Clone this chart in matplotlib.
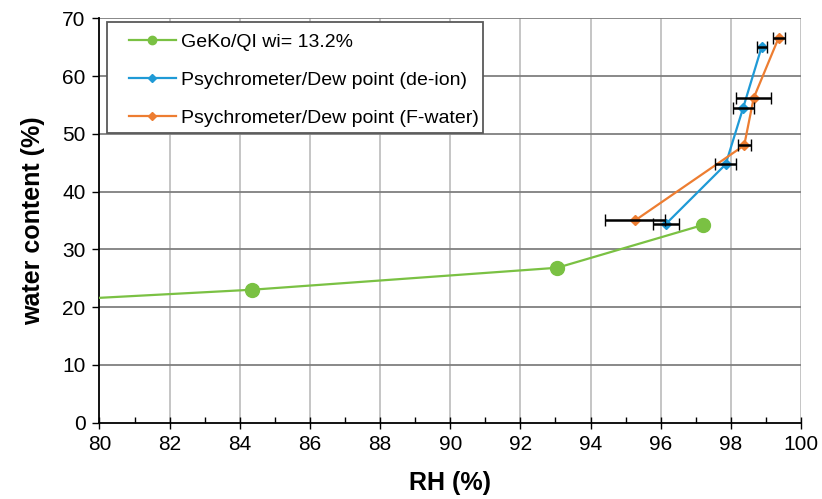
import numpy as np
import matplotlib
matplotlib.use("Agg")
import matplotlib.pyplot as plt
from matplotlib.lines import Line2D
from matplotlib.patches import Rectangle

plt.rcParams['font.family'] = ['Liberation Sans', 'DejaVu Sans']

# GeKo/QI curve (first point lies left of the axis range)
geko_rh = [76.0, 84.36, 93.05, 97.2]
geko_wc = [20.3, 23.0, 26.8, 34.2]

# psychrometer / dew point, de-ionised water
deion_rh = [96.15, 97.85, 98.35, 98.88]
deion_wc = [34.4, 44.7, 54.5, 65.1]
deion_err = [0.38, 0.31, 0.30, 0.14]

# psychrometer / dew point, F-water
fw_rh = [95.27, 98.38, 98.65, 99.36]
fw_wc = [35.0, 48.0, 56.2, 66.6]
fw_err = [0.86, 0.19, 0.50, 0.17]

c_green = '#7ac143'
c_blue = '#1f9ad6'
c_orange = '#ed7d31'

fig = plt.figure(figsize=(8.22, 4.99), dpi=100)
ax = fig.add_axes([0.121, 0.1533, 0.8535, 0.81])

ax.set_xlim(80, 100)
ax.set_ylim(0, 70)
ax.set_xticks(np.arange(80, 101, 2))
ax.set_xticks(np.arange(80, 101, 1), minor=True)
ax.set_yticks(np.arange(0, 71, 10))

# grid
for x in np.arange(82, 101, 2):
    ax.axvline(x, color='#c0c0c0', lw=1.3, zorder=0)
for y in np.arange(10, 71, 10):
    ax.axhline(y, color='#7f7f7f', lw=1.3, zorder=0)

ax.plot(geko_rh, geko_wc, '-o', color=c_green, lw=1.6, ms=10, zorder=3)

ax.plot(deion_rh, deion_wc, '-D', color=c_blue, lw=1.6, ms=5, zorder=4)
ax.plot(fw_rh, fw_wc, '-D', color=c_orange, lw=1.6, ms=5, zorder=4)
ax.errorbar(deion_rh, deion_wc, xerr=deion_err, fmt='none', ecolor='black',
            elinewidth=1.8, capsize=4.5, capthick=1.0, zorder=5)
ax.errorbar(fw_rh, fw_wc, xerr=fw_err, fmt='none', ecolor='black',
            elinewidth=1.8, capsize=4.5, capthick=1.0, zorder=5)

for s in ['top', 'right']:
    ax.spines[s].set_visible(False)
ax.spines['left'].set_linewidth(1.3)
ax.spines['bottom'].set_linewidth(1.3)

ax.tick_params(axis='both', which='major', labelsize=15, colors='black')
ax.tick_params(axis='y', which='major', direction='out', length=5, width=1, pad=5)
ax.tick_params(axis='x', which='major', direction='inout', length=8, width=1, pad=5)
ax.tick_params(axis='x', which='minor', direction='in', length=4, width=1)

ax.set_xlabel('RH (%)', fontsize=18, fontweight='bold', labelpad=12)
ax.set_ylabel('water content (%)', fontsize=18, fontweight='bold', labelpad=12)

# legend box drawn separately so the padding can be uneven
ax.add_patch(Rectangle((0.0107, 0.7162), 0.536, 0.2747, transform=ax.transAxes,
                       facecolor='white', edgecolor='#595959', lw=1.3, zorder=9))
handles = [
    Line2D([], [], color=c_green, marker='o', ms=6, lw=1.6),
    Line2D([], [], color=c_blue, marker='D', ms=4, lw=1.6),
    Line2D([], [], color=c_orange, marker='D', ms=4, lw=1.6),
]
labels = ['GeKo/QI wi= 13.2%', 'Psychrometer/Dew point (de-ion)',
          'Psychrometer/Dew point (F-water)']
leg = ax.legend(handles, labels, loc='upper left', bbox_to_anchor=(0.042, 0.963),
                fontsize=14, frameon=False, borderpad=0.0, labelspacing=1.05,
                handlelength=2.4, handletextpad=0.3, borderaxespad=0.0)
leg.set_zorder(10)

fig.savefig('out.png', dpi=100)
